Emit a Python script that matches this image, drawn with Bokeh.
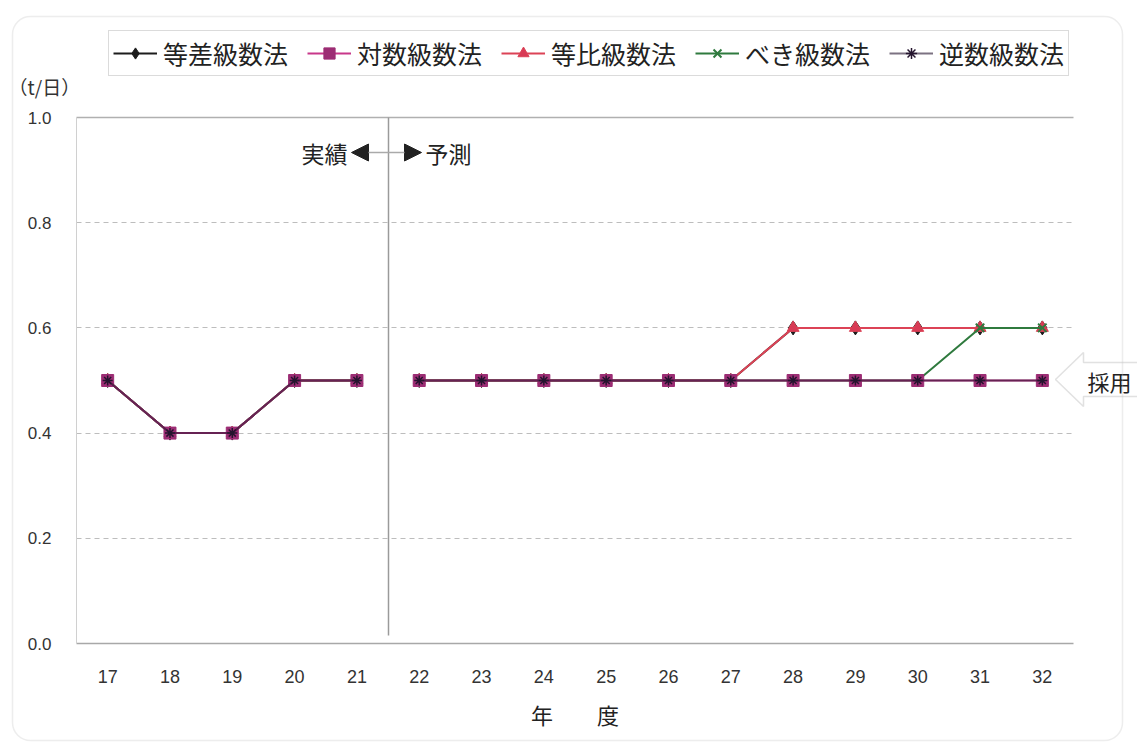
from bokeh.plotting import figure
from bokeh.models import (Legend, LegendItem, Label, Arrow, NormalHead, Grid,
                          FixedTicker, PrintfTickFormatter, PolyAnnotation,
                          BoxAnnotation, ColumnDataSource)
from bokeh.embed import file_html
from bokeh.resources import INLINE

# ---------------- data ----------------
years = [17, 18, 19, 20, 21, 22, 23, 24, 25, 26, 27, 28, 29, 30, 31, 32]
n_actual = 5  # 17..21 are actual values (実績), 22.. forecast (予測)

tosa = [0.5, 0.4, 0.4, 0.5, 0.5, 0.5, 0.5, 0.5, 0.5, 0.5, 0.5, 0.6, 0.6, 0.6, 0.6, 0.6]
taisu = [0.5, 0.4, 0.4, 0.5, 0.5, 0.5, 0.5, 0.5, 0.5, 0.5, 0.5, 0.5, 0.5, 0.5, 0.5, 0.5]
tohi = [0.5, 0.4, 0.4, 0.5, 0.5, 0.5, 0.5, 0.5, 0.5, 0.5, 0.5, 0.6, 0.6, 0.6, 0.6, 0.6]
beki = [0.5, 0.4, 0.4, 0.5, 0.5, 0.5, 0.5, 0.5, 0.5, 0.5, 0.5, 0.5, 0.5, 0.5, 0.6, 0.6]
gyaku = [0.5, 0.4, 0.4, 0.5, 0.5, 0.5, 0.5, 0.5, 0.5, 0.5, 0.5, 0.5, 0.5, 0.5, 0.5, 0.5]

series_names = ["等差級数法", "対数級数法", "等比級数法", "べき級数法", "逆数級数法"]
series_values = [tosa, taisu, tohi, beki, gyaku]
y_ticks = [0.0, 0.2, 0.4, 0.6, 0.8, 1.0]

# ---------------- styles ----------------
styles = [
    dict(color="#1c1c1c", marker="diamond", size=14, fill="#1c1c1c", lw=2, alpha=1.0, mlw=1),
    dict(color="#c8378a", marker="square", size=12, fill="#9c2d74", lw=2, alpha=1.0, mlw=1),
    dict(color="#dc4356", marker="triangle", size=12, fill="#d83a55", lw=2, alpha=1.0, mlw=1),
    dict(color="#2f7a3e", marker="x", size=12, fill="#2f7a3e", lw=2, alpha=1.0, mlw=2),
    dict(color="#24142e", marker="asterisk", size=10, fill="#24142e", lw=2, alpha=0.6, mlw=1.5),
]
draw_order = [0, 2, 3, 1, 4]

JP = "Noto Sans CJK JP"
NUM = "Liberation Sans"

W, H = 1137, 744
L, R, T, B = 76, 1073, 117, 643      # pixel box of the plotting area
X0, X1 = 16.5, 32.5                  # category span of the plotting area


def xd(px):
    return X0 + (px - L) * (X1 - X0) / (R - L)


def yd(py):
    return (B - py) / (B - T)


p = figure(width=W, height=H, x_range=(xd(0), xd(W)), y_range=(yd(H), yd(0)),
           output_backend="svg", toolbar_location=None,
           min_border_left=0, min_border_right=0, min_border_top=0, min_border_bottom=0)
p.outline_line_color = None
p.background_fill_color = "white"
p.border_fill_color = "white"

# grid (restricted to the plotting area)
p.xgrid.visible = False
p.ygrid.ticker = FixedTicker(ticks=[0.2, 0.4, 0.6, 0.8])
p.ygrid.grid_line_color = "#bdbdbd"
p.ygrid.grid_line_dash = "5 4"
p.ygrid.grid_line_width = 1
p.ygrid.cross_bounds = (X0, X1)
p.add_layout(Grid(dimension=1, ticker=FixedTicker(ticks=[1.0]), cross_bounds=(X0, X1),
                  grid_line_color="#b0b0b0", grid_line_width=1.5))
# divider between actual and forecast
p.add_layout(Grid(dimension=0, ticker=FixedTicker(ticks=[(years[n_actual - 1] + years[n_actual]) / 2]),
                  cross_bounds=(0.015, 1.0), grid_line_color="#9a9a9a", grid_line_width=1.5))

# axes
p.yaxis.fixed_location = X0
p.yaxis.bounds = (0, 1)
p.yaxis.ticker = FixedTicker(ticks=y_ticks)
p.yaxis.formatter = PrintfTickFormatter(format="%.1f")
p.yaxis.major_tick_line_color = None
p.yaxis.minor_tick_line_color = None
p.yaxis.axis_line_color = "#d0d0d0"
p.yaxis.major_label_standoff = 19
p.yaxis.major_label_text_font = NUM
p.yaxis.major_label_text_font_size = "17px"
p.yaxis.major_label_text_color = "#333333"

p.xaxis.fixed_location = 0
p.xaxis.bounds = (X0, X1)
p.xaxis.ticker = FixedTicker(ticks=years)
p.xaxis.major_tick_line_color = None
p.xaxis.minor_tick_line_color = None
p.xaxis.axis_line_color = "#a8a8a8"
p.xaxis.axis_line_width = 1.5
p.xaxis.major_label_standoff = 20
p.xaxis.major_label_text_font = NUM
p.xaxis.major_label_text_font_size = "18px"
p.xaxis.major_label_text_color = "#333333"
p.xaxis.axis_label = "年\u3000\u3000度"
p.xaxis.axis_label_text_font = JP
p.xaxis.axis_label_text_font_style = "normal"
p.xaxis.axis_label_text_font_size = "22px"
p.xaxis.axis_label_text_color = "#222222"
p.xaxis.axis_label_standoff = 12

# series
items = [None] * len(series_names)
for i in draw_order:
    name, vals, st = series_names[i], series_values[i], styles[i]
    sa = ColumnDataSource(dict(x=years[:n_actual], y=vals[:n_actual]))
    sf = ColumnDataSource(dict(x=years[n_actual:], y=vals[n_actual:]))
    sall = ColumnDataSource(dict(x=years, y=vals))
    p.line("x", "y", source=sa, line_color=st["color"], line_width=st["lw"], line_alpha=st["alpha"])
    lf = p.line("x", "y", source=sf, line_color=st["color"], line_width=st["lw"], line_alpha=st["alpha"])
    m = p.scatter("x", "y", source=sall, marker=st["marker"], size=st["size"],
                  fill_color=st["fill"], line_color=st["color"] if st["marker"] != "square" else st["fill"],
                  line_width=st["mlw"])
    items[i] = LegendItem(label=name, renderers=[lf, m])

legend = Legend(items=items, orientation="horizontal", location=(108, H - 76))
legend.label_text_font = JP
legend.label_text_font_size = "25px"
legend.label_text_color = "#222222"
legend.glyph_width = 44
legend.glyph_height = 28
legend.label_height = 26
legend.label_standoff = 6
legend.spacing = 19
legend.padding = 4
legend.margin = 0
legend.border_line_color = "#b8b8b8"
legend.border_line_width = 1
legend.background_fill_color = "white"
p.add_layout(legend)

# 実績 <-> 予測
ya = yd(152)
p.add_layout(Arrow(end=NormalHead(size=17, fill_color="#222222", line_color="#222222"),
                   x_start=21.5, x_end=xd(351), y_start=ya, y_end=ya,
                   line_color="#aaaaaa", line_width=1.5))
p.add_layout(Arrow(end=NormalHead(size=17, fill_color="#222222", line_color="#222222"),
                   x_start=21.5, x_end=xd(421), y_start=ya, y_end=ya,
                   line_color="#aaaaaa", line_width=1.5))
p.add_layout(Label(x=xd(347), y=ya, text="実績", text_align="right", text_baseline="middle",
                   text_font=JP, text_font_size="23px", text_color="#222222"))
p.add_layout(Label(x=xd(425), y=ya, text="予測", text_align="left", text_baseline="middle",
                   text_font=JP, text_font_size="23px", text_color="#222222"))

# unit label
p.add_layout(Label(x=xd(8), y=yd(86), text="（t/日）", text_align="left", text_baseline="middle",
                   text_font=JP, text_font_size="19px", text_color="#333333"))

# 採用 arrow
p.add_layout(PolyAnnotation(
    xs=[xd(1055), xd(1083), xd(1083), xd(1140), xd(1140), xd(1083), xd(1083)],
    ys=[yd(379), yd(352), yd(362), yd(362), yd(396), yd(396), yd(406)],
    fill_color="white", fill_alpha=1.0, line_color="#9a9a9a", line_width=1.5))
p.add_layout(Label(x=xd(1087), y=yd(380), text="採用", text_align="left", text_baseline="middle",
                   text_font=JP, text_font_size="22px", text_color="#222222"))

# outer rounded frame
p.add_layout(BoxAnnotation(left=xd(12), right=xd(1122), top=yd(16), bottom=yd(740),
                           fill_alpha=0, line_color="#c4c4c4", line_width=1.5,
                           border_radius=18))

open("out.html", "w").write(file_html(p, INLINE))
